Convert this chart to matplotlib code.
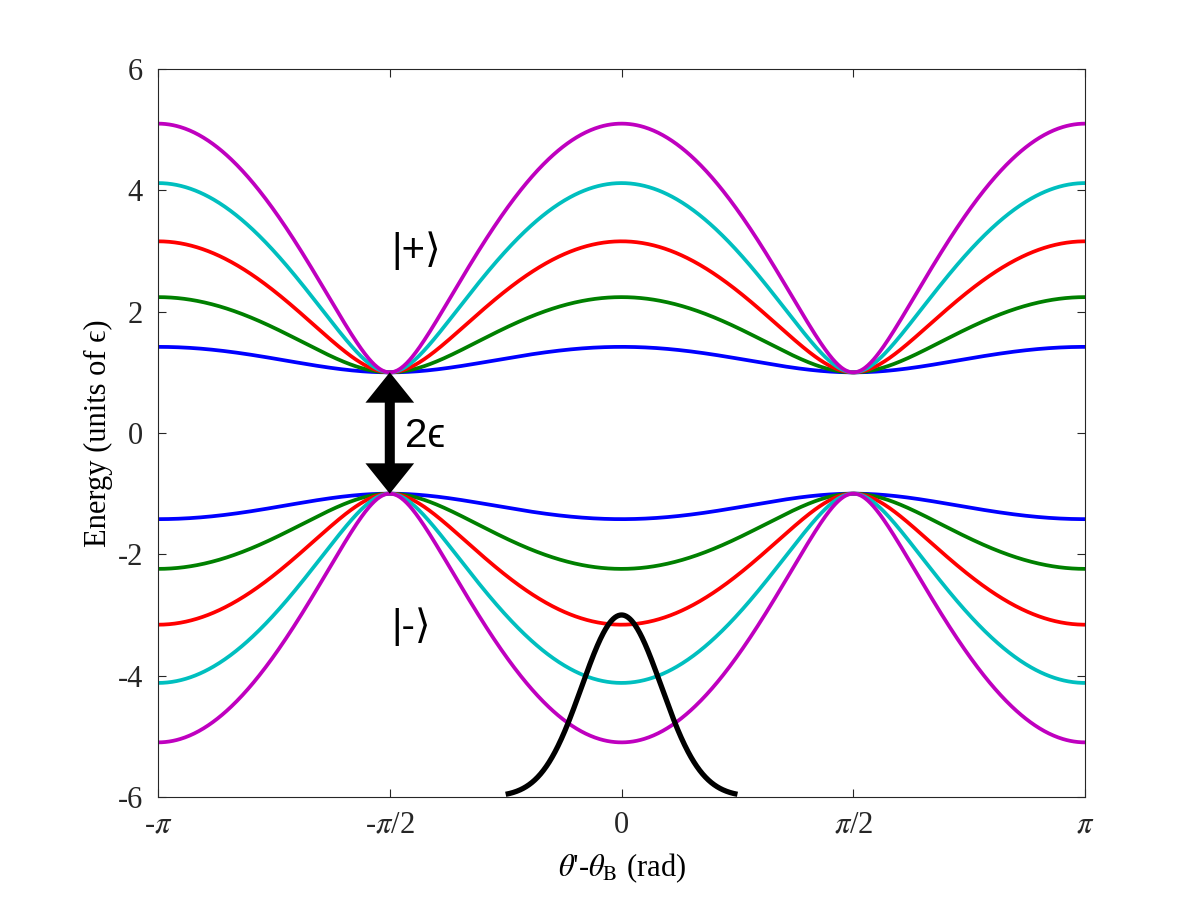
import numpy as np
import matplotlib
matplotlib.use("Agg")
import matplotlib.pyplot as plt

# energies at theta'-theta_B = 0 for each curve, and the gap minimum
peak_energies = [1.42, 2.24, 3.16, 4.12, 5.10]
min_energy = 1.0
curve_colors = ["#0000ff", "#008000", "#ff0000", "#00bfbf", "#bf00bf"]

# black gaussian (angular distribution) drawn at the bottom
gauss_center = 0.0
gauss_peak = -3.0
gauss_base = -6.0
gauss_sigma = 0.27
gauss_halfspan = np.pi / 4

xtick_vals = [-np.pi, -np.pi / 2, 0, np.pi / 2, np.pi]
xtick_labels = [r"-$\pi$", r"-$\pi$/2", "0", r"$\pi$/2", r"$\pi$"]
ytick_vals = [-6, -4, -2, 0, 2, 4, 6]

plt.rcParams["font.family"] = ["Liberation Serif", "DejaVu Serif"]
plt.rcParams["mathtext.fontset"] = "stix"
plt.rcParams["axes.unicode_minus"] = False

fig = plt.figure(figsize=(11.99, 8.99), dpi=100)
ax = fig.add_axes([0.1318, 0.1135, 0.7732, 0.8097])

theta = np.linspace(-np.pi, np.pi, 1000)
for peak, col in zip(peak_energies, curve_colors):
    coupling = peak ** 2 - min_energy ** 2
    upper = np.sqrt(min_energy ** 2 + coupling * np.cos(theta) ** 2)
    ax.plot(theta, upper, color=col, lw=2.7)
    ax.plot(theta, -upper, color=col, lw=2.7)

tg = np.linspace(gauss_center - gauss_halfspan, gauss_center + gauss_halfspan, 400)
gauss = gauss_base + (gauss_peak - gauss_base) * np.exp(-(tg - gauss_center) ** 2 / (2 * gauss_sigma ** 2))
ax.plot(tg, gauss, color="k", lw=3.8, solid_capstyle="butt")

# double arrow showing the gap (two filled arrows from the middle outwards)
for end in (min_energy, -min_energy):
    ax.arrow(-np.pi / 2, 0, 0, end, width=0.068, head_width=0.33, head_length=0.5,
             length_includes_head=True, color="k", lw=0, zorder=5)
ax.text(-1.47, -0.05, "2\u03f5", fontsize=29, family=["Liberation Sans", "DejaVu Sans"],
        ha="left", va="center")
ax.text(-1.56, 3.0, "|+\u27e9", fontsize=29, family=["Liberation Sans", "DejaVu Sans"],
        ha="left", va="center")
ax.text(-1.56, -3.2, "|-\u27e9", fontsize=29, family=["Liberation Sans", "DejaVu Sans"],
        ha="left", va="center")

ax.set_xlim(-np.pi, np.pi)
ax.set_ylim(-6, 6)
ax.set_xticks(xtick_vals)
ax.set_xticklabels(xtick_labels)
ax.set_yticks(ytick_vals)
ax.tick_params(direction="in", top=True, right=True, length=6, width=0.8,
               labelsize=22, colors="#262626")
ax.tick_params(axis="x", pad=10)
ax.tick_params(axis="y", pad=11)
for s in ax.spines.values():
    s.set_linewidth(0.8)
    s.set_color("#262626")

ax.set_xlabel(r"$\theta$'-$\theta_{\rm B}$ (rad)", fontsize=22, labelpad=8)
ax.set_ylabel("Energy (units of \u03f5)", fontsize=22, labelpad=3)

fig.savefig("out.png", dpi=100)
